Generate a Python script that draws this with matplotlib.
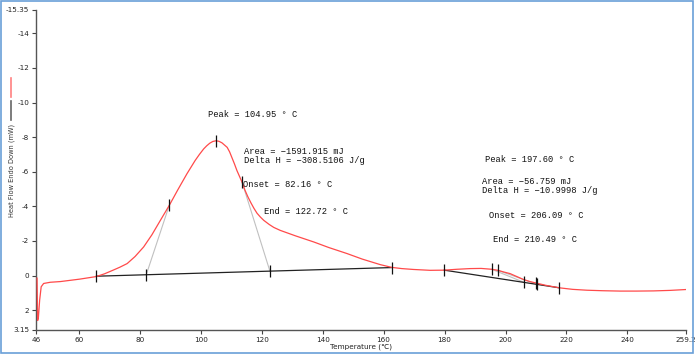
import matplotlib.pyplot as plt
import numpy as np
from matplotlib.lines import Line2D
from matplotlib.patches import Rectangle

# DSC heat flow curve (temperature in C, heat flow in mW, endo down)
temp = [46.35, 46.45, 46.55, 46.8, 47.2, 47.7, 48.5, 50.7, 54.0, 60.3, 65.8,
        68.5, 71.3, 73.5, 75.9, 78.5, 81.3, 84.0, 86.8, 89.7, 92.5, 95.5, 98.2,
        99.6, 101.0, 102.0, 103.0, 104.0, 105.05, 106.0, 107.0, 108.7, 109.5,
        110.3, 111.1, 111.9, 112.7, 113.6, 114.5, 115.5, 116.5, 117.5, 118.5,
        119.6, 120.7, 122.5, 124.0, 126.1, 131.0, 137.1, 142.0, 148.0, 153.0,
        158.9, 162.7, 166.0, 169.8, 175.3, 179.9, 184.0, 188.4, 192.0, 195.5,
        197.5, 199.5, 201.5, 203.7, 205.9, 207.8, 209.7, 213.0, 217.6, 222.0,
        226.7, 232.0, 237.6, 243.0, 248.5, 254.0, 259.2]
heat = [0.15, 1.5, 2.6, 2.4, 1.42, 0.65, 0.46, 0.39, 0.35, 0.21, 0.06,
        -0.1, -0.31, -0.48, -0.69, -1.1, -1.65, -2.35, -3.19, -4.05, -4.95, -5.88, -6.65,
        -7.0, -7.32, -7.5, -7.65, -7.75, -7.79, -7.76, -7.67, -7.41, -7.15,
        -6.8, -6.45, -6.07, -5.75, -5.39, -4.95, -4.55, -4.2, -3.88, -3.6,
        -3.38, -3.19, -2.95, -2.78, -2.61, -2.3, -1.94, -1.62, -1.27, -0.95,
        -0.63, -0.47, -0.4, -0.35, -0.3, -0.31, -0.36, -0.4, -0.41, -0.36,
        -0.3, -0.2, -0.11, 0.06, 0.23, 0.34, 0.42, 0.56, 0.71, 0.8,
        0.85, 0.88, 0.9, 0.9, 0.89, 0.86, 0.81]

# baselines of the two peaks
base1_t = [65.8, 162.75]
base1_h = [0.04, -0.46]
base2_t = [179.9, 217.6]
base2_h = [-0.31, 0.71]
base1_marks = [65.8, 82.16, 122.72, 162.75]
base2_marks = [179.9, 206.09, 210.49, 217.6]
curve_marks = [89.7, 105.05, 113.6, 195.5, 197.4, 209.9]

# tangent lines: (curve point temp, baseline temp, which baseline)
tangents = [(89.7, 82.16, 1), (113.6, 122.72, 1), (195.5, 206.09, 2), (197.4, 210.49, 2)]

ann1 = ["Peak = 104.95 ° C", "Area = \u22121591.915 mJ\nDelta H = \u2212308.5106 J/g",
        "Onset = 82.16 ° C", "End = 122.72 ° C"]
ann1_pos = [(102.5, -9.29), (114.3, -6.9), (114.0, -5.26), (120.9, -3.7)]
ann2 = ["Peak = 197.60 ° C", "Area = \u221256.759 mJ\nDelta H = \u221210.9998 J/g",
        "Onset = 206.09 ° C", "End = 210.49 ° C"]
ann2_pos = [(193.3, -6.70), (192.4, -5.2), (194.7, -3.47), (196.0, -2.09)]

xticks = [46, 60, 80, 100, 120, 140, 160, 180, 200, 220, 240, 259.2]
yticks = [-15.35, -14, -12, -10, -8, -6, -4, -2, 0, 2, 3.15]

fig = plt.figure(figsize=(6.95, 3.56), dpi=100)
ax = fig.add_axes([36 / 695, 1 - 330 / 356, 650 / 695, 320 / 356])

ax.plot(temp, heat, color="#ff4a4a", lw=0.9, zorder=3)
ax.plot(base1_t, base1_h, color="#222222", lw=0.9, zorder=2)
ax.plot(base2_t, base2_h, color="#222222", lw=0.9, zorder=2)

for ct, bt, which in tangents:
    if which == 1:
        bh = np.interp(bt, base1_t, base1_h)
    else:
        bh = np.interp(bt, base2_t, base2_h)
    ax.plot([ct, bt], [np.interp(ct, temp, heat), bh], color="#c0c0c0", lw=0.8, zorder=1)

ax.plot(base1_marks, np.interp(base1_marks, base1_t, base1_h), ls="none",
        marker="|", ms=8, mew=0.9, color="#111111", zorder=4)
ax.plot(base2_marks, np.interp(base2_marks, base2_t, base2_h), ls="none",
        marker="|", ms=8, mew=0.9, color="#111111", zorder=4)
ax.plot(curve_marks, np.interp(curve_marks, temp, heat), ls="none",
        marker="|", ms=8, mew=0.9, color="#111111", zorder=4)

for txt, (x, y) in zip(ann1 + ann2, ann1_pos + ann2_pos):
    ax.text(x, y, txt, fontsize=6.3, family="Liberation Mono", va="center",
            ha="left", color="#111111", linespacing=1.0)

ax.set_xlim(46, 259.2)
ax.set_ylim(3.15, -15.35)
ax.set_xticks(xticks)
ax.set_xticklabels(["46", "60", "80", "100", "120", "140", "160", "180", "200",
                    "220", "240", "259.2"])
ax.set_yticks(yticks)
ax.set_yticklabels(["-15.35", "-14", "-12", "-10", "-8", "-6", "-4", "-2", "0",
                    "2", "3.15"])
ax.tick_params(labelsize=5.2, colors="#444444", labelcolor="#222222", length=3,
               width=0.8, pad=2)
for s in ["top", "right"]:
    ax.spines[s].set_visible(False)
for s in ["left", "bottom"]:
    ax.spines[s].set_color("#555555")
    ax.spines[s].set_linewidth(1.0)

ax.set_xlabel("Temperature (℃)", fontsize=5.2, color="#222222", labelpad=0.5,
              family=["DejaVu Sans", "Noto Sans CJK SC"])
fig.text(12 / 695, 1 - 170 / 356, "Heat Flow Endo Down (mW)", rotation=90,
         fontsize=4.8, color="#333333", ha="center", va="center")

# little legend swatches left of the y label
fig.add_artist(Line2D([11 / 695, 11 / 695], [1 - 78 / 356, 1 - 97 / 356],
                      color="#ff8080", lw=1.2))
fig.add_artist(Line2D([11 / 695, 11 / 695], [1 - 101 / 356, 1 - 120 / 356],
                      color="#666666", lw=1.2))

# light blue frame round the picture
fig.add_artist(Rectangle((0.001, 0.008), 0.996, 0.99, transform=fig.transFigure,
                         fill=False, edgecolor="#6a9fd8", lw=1.2))

fig.savefig("out.png", dpi=100)
